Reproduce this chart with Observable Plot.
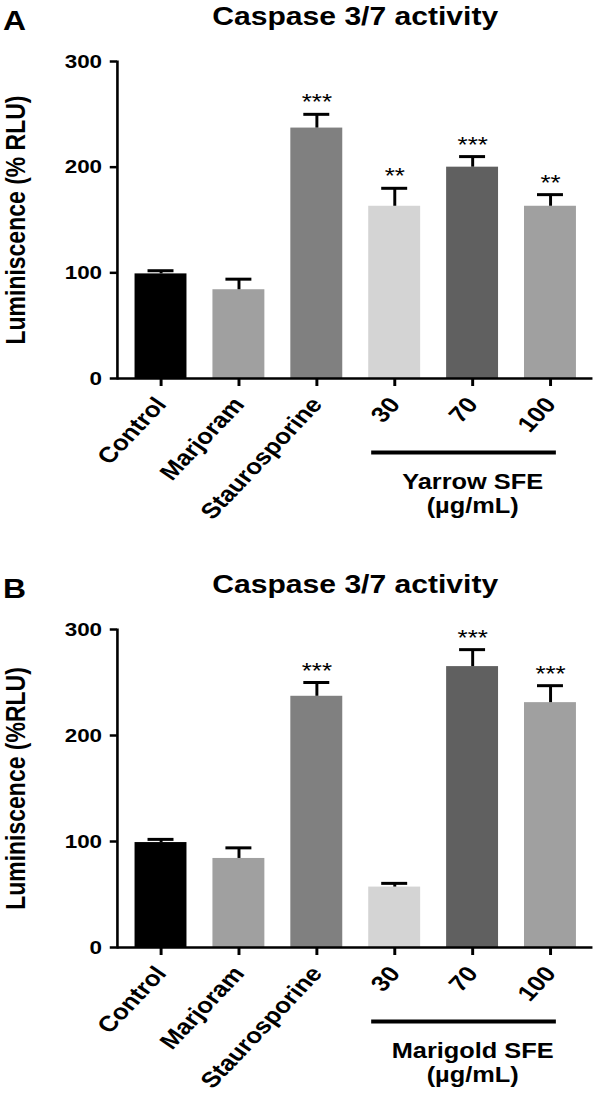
<!DOCTYPE html>
<html><head><meta charset="utf-8">
<script src="https://cdn.jsdelivr.net/npm/d3@7"></script>
<script src="https://cdn.jsdelivr.net/npm/@observablehq/plot@0.6"></script>
<style>
body{margin:0;background:#fff;}
#wrap{width:505px;transform:scaleX(1.1802);transform-origin:0 0;}
#wrap svg{display:block;}
</style></head><body><div id="wrap"></div>
<script>
const categories = ["Control","Marjoram","Staurosporine","30","70","100"];
const colors = ["#000000","#a0a0a0","#808080","#d4d4d4","#606060","#a0a0a0"];
const yTicks = [0,100,200,300];
const groupRange = ["30","100"];
const groupCenter = "70";
const meanA = [99,84,237,163,200,163];
const errA = [3,10,13,17,10,11];
const starsA = ["","","***","**","***","**"];
const meanB = [99,84,237,57,265,231];
const errB = [3,10,13,3.5,16,16];
const starsB = ["","","***","","***","***"];

const panels = [
  {letter:"A", title:"Caspase 3/7 activity", ylabel:"Luminiscence (% RLU)", group:"Yarrow SFE\n(µg/mL)",
   mean:meanA, err:errA, stars:starsA, height:569, marginTop:61, marginBottom:191},
  {letter:"B", title:"Caspase 3/7 activity", ylabel:"Luminiscence (%RLU)", group:"Marigold SFE\n(µg/mL)",
   mean:meanB, err:errB, stars:starsB, height:528, marginTop:60, marginBottom:150}
];

const wrap = document.getElementById("wrap");
for (const p of panels) {
  const data = categories.map((c,i) => ({cat:c, mean:p.mean[i], err:p.err[i], star:p.stars[i], color:colors[i]}));
  const chart = Plot.plot({
    width:505, height:p.height, marginLeft:99, marginRight:3, marginTop:p.marginTop, marginBottom:p.marginBottom,
    style:{fontFamily:"'Liberation Sans', Arial, sans-serif", fontWeight:"bold", background:"#fff", color:"#000"},
    x:{domain:categories, paddingInner:0.34, paddingOuter:0.18},
    y:{domain:[0,300]},
    color:{type:"identity"},
    marks:[
      Plot.barY(data,{x:"cat", y:"mean", fill:"color"}),
      Plot.ruleX(data,{x:"cat", y1:"mean", y2:d=>d.mean+d.err, strokeWidth:2.5, stroke:"#000"}),
      Plot.tickY(data,{x:"cat", y:d=>d.mean+d.err, strokeWidth:3, insetLeft:11, insetRight:11, stroke:"#000"}),
      Plot.text(data.filter(d=>d.star),{x:"cat", y:d=>d.mean+d.err, text:"star", lineAnchor:"bottom", dy:-5, fontSize:22, fontWeight:"normal"}),
      Plot.ruleY([0],{strokeWidth:2.5}),
      Plot.frame({anchor:"left", strokeWidth:2.2}),
      Plot.axisY({ticks:yTicks, tickSize:6, tickPadding:7, fontSize:19, strokeWidth:2.5, label:null, tickFormat:d=>String(d)}),
      Plot.axisX({tickSize:8, tickRotate:-51, tickPadding:14, fontSize:22, strokeWidth:2.5, label:null}),
      Plot.ruleY([0],{x1:()=>groupRange[0], x2:()=>groupRange[1], dy:74, insetLeft:2.5, insetRight:17, strokeWidth:4}),
      Plot.text([p.group],{x:()=>groupCenter, y:()=>0, dy:115, text:d=>d, lineAnchor:"middle", lineHeight:1.1, fontSize:21.5}),
      Plot.text([p.title],{frameAnchor:"top", dy:-37, text:d=>d, lineAnchor:"bottom", fontSize:25.5}),
      Plot.text([p.letter],{frameAnchor:"top-left", dx:-97, dy:-32, text:d=>d, textAnchor:"start", lineAnchor:"bottom", fontSize:27}),
      Plot.text([p.ylabel],{frameAnchor:"left", dx:-86, rotate:-90, text:d=>d, textAnchor:"middle", lineAnchor:"middle", fontSize:23})
    ]
  });
  wrap.appendChild(chart);
}
</script></body></html>
